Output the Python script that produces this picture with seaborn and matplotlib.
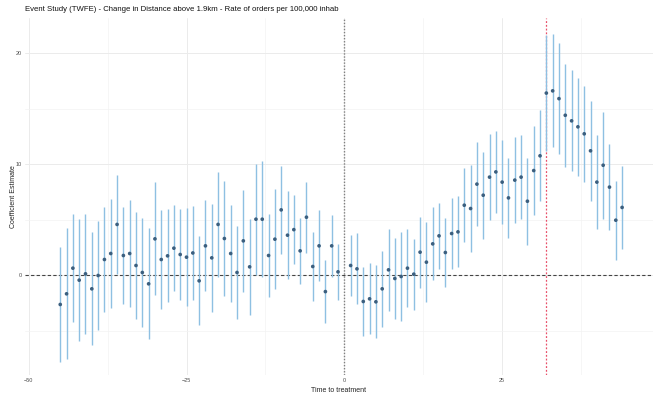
import numpy as np
import pandas as pd
import matplotlib
matplotlib.use("Agg")
import matplotlib.pyplot as plt
import seaborn as sns
from matplotlib.ticker import MultipleLocator

# ---- data ----
periods = [p for p in range(-45, 45) if p != 0]
estimates = [-2.64, -1.68, 0.63, -0.45, 0.12, -1.23, -0.03, 1.41, 1.95, 4.57,
             1.77, 1.95, 0.87, 0.24, -0.78, 3.27, 1.41, 1.74, 2.43, 1.86,
             1.62, 2.00, -0.51, 2.64, 1.56, 4.57, 3.30, 1.95, 0.24, 3.09,
             0.75, 5.04, 5.04, 1.77, 3.24, 5.88, 3.60, 4.10, 2.19, 5.22,
             0.78, 2.64, -1.48, 2.64, 0.30,
             0.87, 0.57, -2.37, -2.13, -2.40, -1.23, 0.48, -0.30, -0.12, 0.63,
             0.09, 2.07, 1.17, 2.82, 3.54, 2.04, 3.75, 3.90, 6.30, 6.00,
             8.20, 7.20, 8.83, 9.30, 8.38, 6.96, 8.56, 8.83, 6.66, 9.42,
             10.75, 16.40, 16.60, 15.90, 14.40, 13.90, 13.36, 12.73, 11.20, 8.38,
             9.90, 7.93, 4.95, 6.10]
ci_half = [5.2, 5.9, 4.85, 5.5, 5.4, 5.1, 4.9, 4.75, 4.9, 4.45,
           4.4, 4.8, 4.8, 4.95, 5.0, 5.1, 4.5, 4.2, 3.9, 4.07,
           4.4, 4.2, 4.0, 4.1, 4.85, 4.7, 5.15, 4.4, 4.16, 4.6,
           4.3, 5.0, 5.2, 3.75, 4.5, 3.96, 3.95, 3.1, 3.0, 3.2,
           3.1, 3.2, 2.85, 2.8, 2.55,
           2.75, 3.2, 3.1, 3.2, 3.3, 3.4, 3.7, 3.65, 4.0, 3.5,
           3.2, 3.2, 3.6, 3.3, 3.0, 3.1, 3.2, 3.2, 3.35, 3.9,
           3.75, 3.9, 3.86, 3.7, 3.75, 3.6, 3.9, 3.8, 3.9, 4.0,
           4.1, 5.25, 5.1, 5.0, 4.65, 4.55, 4.4, 4.35, 4.5, 4.2,
           4.8, 3.9, 3.55, 3.75]
x_ticks = [-50, -25, 0, 25]
y_ticks = [0, 10, 20]
treat_line = 0
event_line = 32

df = pd.DataFrame({"period": periods, "estimate": estimates, "half": ci_half})
df["lower"] = df["estimate"] - df["half"]
df["upper"] = df["estimate"] + df["half"]

sns.set_theme(style="whitegrid")
plt.rcParams["font.family"] = ["Liberation Sans", "DejaVu Sans"]

fig = plt.figure(figsize=(6.55, 3.94), dpi=100)
ax = fig.add_axes([0.038, 0.048, 0.959, 0.906])

ax.vlines(df["period"], df["lower"], df["upper"], color="#8ec0e2",
          linewidth=1.0, zorder=2)
sns.scatterplot(data=df, x="period", y="estimate", ax=ax, color="#3b5f7f",
                s=7, edgecolor="none", zorder=3)

ax.axhline(0, color="#444444", linestyle=(0, (3, 2)), linewidth=0.8, zorder=1.5)
ax.axvline(treat_line, color="#808080", linestyle=(0, (1, 1.2)), linewidth=1.0, zorder=1.5)
ax.axvline(event_line, color="#e8506a", linestyle=(0, (1.5, 1.5)), linewidth=0.9, zorder=1.5)

ax.set_xlim(-50.6, 48.9)
ax.set_ylim(-9.0, 23.15)
ax.set_xticks(x_ticks)
ax.set_yticks(y_ticks)
ax.xaxis.set_minor_locator(MultipleLocator(12.5))
ax.yaxis.set_minor_locator(MultipleLocator(5))
ax.grid(which="major", color="#ebebeb", linewidth=0.7)
ax.grid(which="minor", color="#f3f3f3", linewidth=0.5)
for s in ax.spines.values():
    s.set_visible(False)
ax.tick_params(axis="both", which="both", length=0, labelsize=4, colors="#4d4d4d", pad=2)

ax.set_xlabel("Time to treatment", fontsize=5, color="#222222", labelpad=3)
ax.set_ylabel("Coefficient Estimate", fontsize=5, color="#222222")
ax.yaxis.set_label_coords(-0.013, 0.5)
ax.set_title("Event Study (TWFE) - Change in Distance above 1.9km - Rate of orders per 100,000 inhab",
             fontsize=5.6, loc="left", color="#111111", pad=5)

fig.savefig("out.png", dpi=100)
